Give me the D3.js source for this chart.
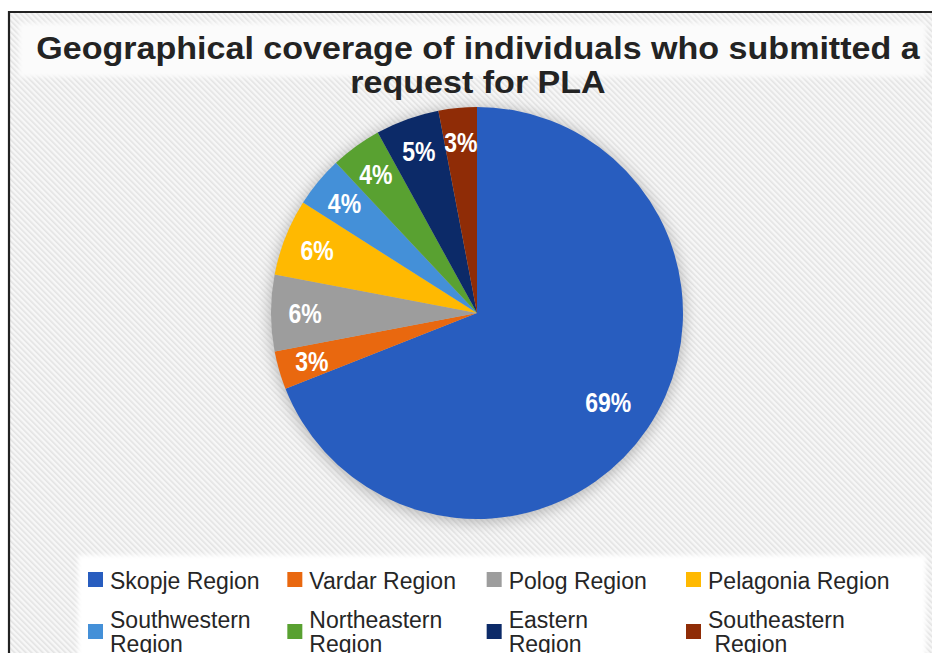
<!DOCTYPE html>
<html>
<head>
<meta charset="utf-8">
<script src="https://cdn.jsdelivr.net/npm/d3@7"></script>
<style>
  html, body { margin: 0; padding: 0; background: #ffffff; }
  svg { display: block; }
</style>
</head>
<body>
<svg id="chart" width="932" height="653"></svg>
<script>
// Share of PLA requests by region (percent), drawn clockwise from 12 o'clock
const regions = ["Skopje Region", "Vardar Region", "Polog Region", "Pelagonia Region",
                 "Southwestern Region", "Northeastern Region", "Eastern Region", "Southeastern Region"];
const shares = [69, 3, 6, 6, 4, 4, 5, 3];
const colors = ["#285DBF", "#E9680F", "#9D9D9D", "#FFB901", "#4490D8", "#59A131", "#0C2A68", "#8F2C06"];
// legend lines (two-line entries wrap the same way as the legend)
const legendLines = [["Skopje Region"], ["Vardar Region"], ["Polog Region"], ["Pelagonia Region"],
                     ["Southwestern", "Region"], ["Northeastern", "Region"], ["Eastern", "Region"], ["Southeastern", " Region"]];
const titleLines = ["Geographical coverage of individuals who submitted a", "request for PLA"];

const W = 932, H = 653;
const svg = d3.select("#chart");
const defs = svg.append("defs");

// diagonal hatch background
const pat = defs.append("pattern")
  .attr("id", "hatch").attr("patternUnits", "userSpaceOnUse")
  .attr("width", 4).attr("height", 4)
  .attr("patternTransform", "rotate(-45)");
pat.append("rect").attr("width", 4).attr("height", 4).attr("fill", "#f7f7f7");
pat.append("rect").attr("width", 1.6).attr("height", 4).attr("fill", "#e3e3e3");

const blur = defs.append("filter").attr("id", "glow")
  .attr("x", "-20%").attr("y", "-20%").attr("width", "140%").attr("height", "140%");
blur.append("feGaussianBlur").attr("stdDeviation", 7);

const soft = defs.append("filter").attr("id", "soft")
  .attr("x", "-5%").attr("y", "-20%").attr("width", "110%").attr("height", "140%");
soft.append("feGaussianBlur").attr("stdDeviation", 2);

// frame and background
svg.append("rect").attr("x", 9).attr("y", 12).attr("width", W - 9).attr("height", H - 12)
  .attr("fill", "url(#hatch)");
svg.append("line").attr("x1", 9).attr("x2", W).attr("y1", 12).attr("y2", 12)
  .attr("stroke", "#222").attr("stroke-width", 2.2);
svg.append("line").attr("x1", 9).attr("x2", 9).attr("y1", 11).attr("y2", H)
  .attr("stroke", "#222").attr("stroke-width", 2.2);

// title panel
svg.append("rect").attr("x", 19).attr("y", 23).attr("width", 907).attr("height", 54)
  .attr("fill", "#fbfbfb").attr("filter", "url(#soft)");
const title = svg.append("g").attr("font-family", "'Liberation Sans', Arial, sans-serif")
  .attr("font-weight", "bold").attr("fill", "#232323").attr("text-anchor", "middle");
title.selectAll("text").data(titleLines).join("text")
  .attr("transform", (d, i) => `translate(478,${i === 0 ? 59 : 93}) scale(1.135,1.02)`)
  .attr("font-size", 30)
  .text(d => d);

// pie
const cx = 477, cy = 313, R = 206;
const pieGen = d3.pie().value(d => d).sort(null).startAngle(0).endAngle(2 * Math.PI);
const arcs = pieGen(shares);
const arc = d3.arc().innerRadius(0).outerRadius(R);

const pg = svg.append("g").attr("transform", `translate(${cx},${cy})`);
pg.append("circle").attr("r", R + 2).attr("cy", 2).attr("fill", "#8a8a8a")
  .attr("opacity", 0.55).attr("filter", "url(#glow)");
pg.selectAll("path.slice").data(arcs).join("path")
  .attr("class", "slice")
  .attr("d", arc)
  .attr("fill", (d, i) => colors[i]);

// value labels: the large slice's label sits deeper inside
const labelArc = d => {
  const r = d.data >= 50 ? R * 0.77 : R * 0.835;
  return d3.arc().innerRadius(r).outerRadius(r).centroid(d);
};
pg.selectAll("text.val").data(arcs).join("text")
  .attr("class", "val")
  .attr("transform", d => { const [x, y] = labelArc(d); return `translate(${x},${y}) scale(1,1.2)`; })
  .attr("text-anchor", "middle").attr("dy", "0.36em")
  .attr("font-family", "'Liberation Sans', Arial, sans-serif").attr("font-weight", "bold")
  .attr("font-size", 23).attr("fill", "#ffffff")
  .text(d => d.data + "%");

// legend
svg.append("rect").attr("x", 78).attr("y", 555).attr("width", 848).attr("height", 110)
  .attr("fill", "#ffffff").attr("filter", "url(#soft)");
const colX = d3.scaleLinear().domain([0, 3]).range([88, 686]);
const lg = svg.append("g").attr("font-family", "'Liberation Sans', Arial, sans-serif")
  .attr("font-size", 23).attr("fill", "#262626");
const items = lg.selectAll("g.item").data(regions).join("g")
  .attr("class", "item")
  .attr("transform", (d, i) => `translate(${colX(i % 4)},0)`);
items.append("rect")
  .attr("x", 0).attr("y", (d, i) => i < 4 ? 572 : 624)
  .attr("width", 15).attr("height", 15)
  .attr("fill", (d, i) => colors[i]);
items.each(function (d, i) {
  const lines = legendLines[i];
  const t = d3.select(this).append("text").attr("xml:space", "preserve")
    .attr("transform", "scale(1,1)");
  lines.forEach((s, k) => {
    t.append("tspan").attr("x", 22)
      .attr("y", i < 4 ? 589 : 628 + k * 24)
      .text(s);
  });
});
</script>
</body>
</html>
